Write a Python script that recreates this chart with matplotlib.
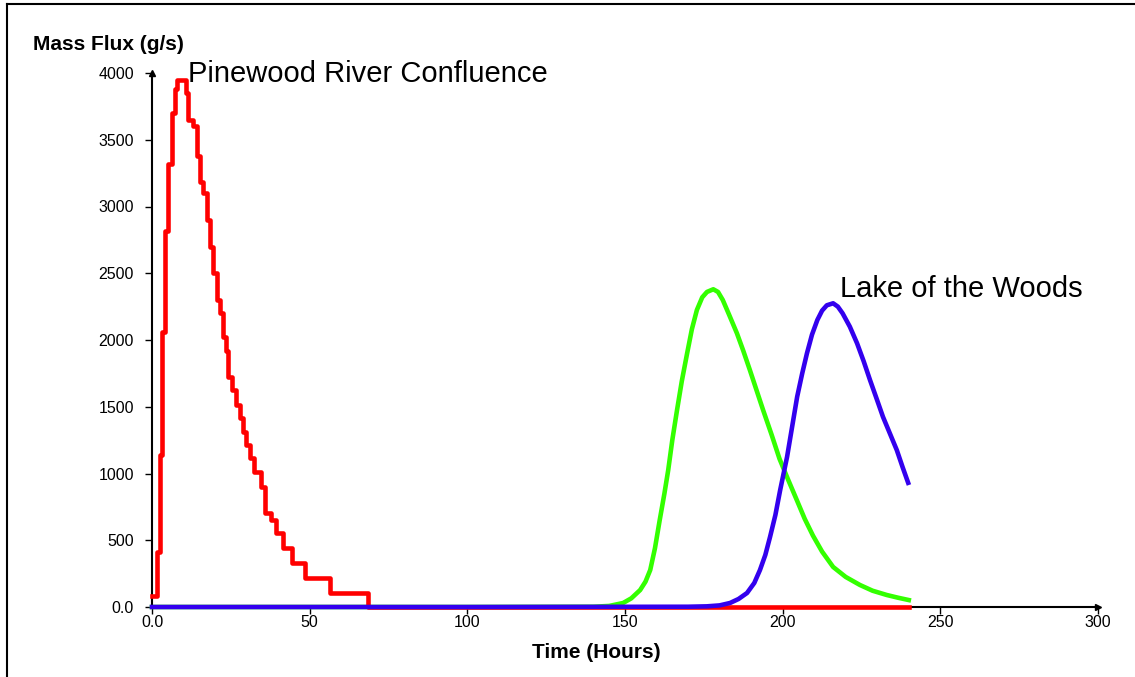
import matplotlib
matplotlib.use("Agg")
import matplotlib.pyplot as plt
from matplotlib.lines import Line2D

plt.rcParams['font.family'] = ['Liberation Sans', 'DejaVu Sans']

# Pinewood River Confluence (step series)
red_t = [0, 1.5, 2.5, 3.2, 4.1, 5.1, 6.3, 7.2, 8.0, 10.8, 11.5, 13.0, 14.2, 15.2,
         16.2, 17.4, 18.4, 19.2, 20.5, 21.5, 22.5, 23.5, 24.2, 25.3, 26.6, 27.8,
         28.8, 29.9, 31.0, 32.4, 34.6, 35.8, 37.8, 39.3, 41.4, 44.4, 48.4, 56.6,
         68.5, 240]
red_v = [80, 410, 1140, 2060, 2820, 3320, 3700, 3880, 3950, 3850, 3650, 3600, 3380, 3180,
         3100, 2900, 2700, 2500, 2300, 2200, 2020, 1920, 1720, 1625, 1510, 1415,
         1310, 1215, 1115, 1010, 900, 705, 650, 555, 440, 330, 215, 105,
         0, 0]

# middle station
green_t = [0, 100, 140, 145, 149.4, 152, 154.8, 156.5, 158, 159.5, 161, 162.5, 163.7, 165,
           166.5, 168, 169.7, 171.2, 172.8, 174.5, 176, 178, 179.5, 181, 183, 185.5,
           187.5, 189.6, 191.7, 193.8, 196.5, 199, 201.8, 204.5, 207, 209.6, 212.5,
           216, 220, 224.5, 228.5, 233, 236.5, 240]
green_v = [0, 0, 2, 8, 30, 65, 127, 190, 277, 440, 650, 850, 1025, 1250,
           1475, 1690, 1900, 2080, 2225, 2320, 2360, 2380, 2360, 2300, 2190, 2050,
           1920, 1775, 1625, 1475, 1290, 1110, 950, 800, 660, 535, 415,
           300, 225, 165, 122, 90, 70, 52]

# Lake of the Woods
blue_t = [0, 100, 170, 176, 180, 183.3, 186, 188.7, 191, 192.8, 194.5, 196, 197.7, 199.2,
          201.4, 203, 204.6, 206.2, 207.7, 209.3, 211, 212.5, 214, 216, 217.5, 219,
          221.3, 223.6, 225.7, 227.7, 229.8, 231.8, 234, 236.2, 238, 239.8]
blue_v = [0, 0, 2, 5, 12, 30, 60, 105, 180, 277, 390, 525, 690, 875,
          1125, 1350, 1575, 1750, 1900, 2040, 2150, 2220, 2260, 2275, 2250, 2200,
          2100, 1975, 1840, 1700, 1560, 1425, 1300, 1175, 1050, 930]

x_ticks = [0, 50, 100, 150, 200, 250, 300]
x_labels = ['0.0', '50', '100', '150', '200', '250', '300']
y_ticks = [0, 500, 1000, 1500, 2000, 2500, 3000, 3500, 4000]
y_labels = ['0.0', '500', '1000', '1500', '2000', '2500', '3000', '3500', '4000']

fig = plt.figure(figsize=(11.35, 6.77), dpi=100)
ax = fig.add_axes([152 / 1135, 1 - 607 / 677, (1098 - 152) / 1135, (607 - 73) / 677])

ax.plot(red_t, red_v, color='#ff0000', lw=3.3, drawstyle='steps-post', clip_on=False, zorder=3)
ax.plot(green_t, green_v, color='#33ff00', lw=3.3, clip_on=False, zorder=2)
ax.plot(blue_t, blue_v, color='#3300ee', lw=3.3, clip_on=False, zorder=4)

ax.set_xlim(0, 300)
ax.set_ylim(0, 4000)
ax.set_xticks(x_ticks)
ax.set_xticklabels(x_labels)
ax.set_yticks(y_ticks)
ax.set_yticklabels(y_labels)
ax.tick_params(axis='both', direction='out', length=5, width=1, labelsize=11.5,
               colors='black')
ax.tick_params(axis='x', pad=1)
ax.tick_params(axis='y', pad=8)

for s in ['top', 'right']:
    ax.spines[s].set_visible(False)
for s in ['left', 'bottom']:
    ax.spines[s].set_linewidth(1.5)

# arrow heads at axis ends
ax.plot(1, 0, '>', color='black', ms=5, transform=ax.transAxes, clip_on=False)
ax.plot(0, 1, '^', color='black', ms=4, transform=ax.transAxes, clip_on=False)

ax.text(11.4, 3933, 'Pinewood River Confluence', fontsize=21, va='baseline', ha='left')
ax.text(218.2, 2322, 'Lake of the Woods', fontsize=21, va='baseline', ha='left')

fig.text(33 / 1135, 1 - 45 / 677, 'Mass Flux (g/s)', fontsize=15, fontweight='bold',
         ha='left', va='center')
fig.text(596 / 1135, 1 - 653 / 677, 'Time (Hours)', fontsize=15, fontweight='bold',
         ha='center', va='center')

# outer frame (left and top edges visible)
fig.add_artist(Line2D([7 / 1135, 7 / 1135], [0, 1 - 4 / 677], color='black', lw=1.5))
fig.add_artist(Line2D([7 / 1135, 1], [1 - 4 / 677, 1 - 4 / 677], color='black', lw=1.5))

fig.savefig('out.png', dpi=100)
